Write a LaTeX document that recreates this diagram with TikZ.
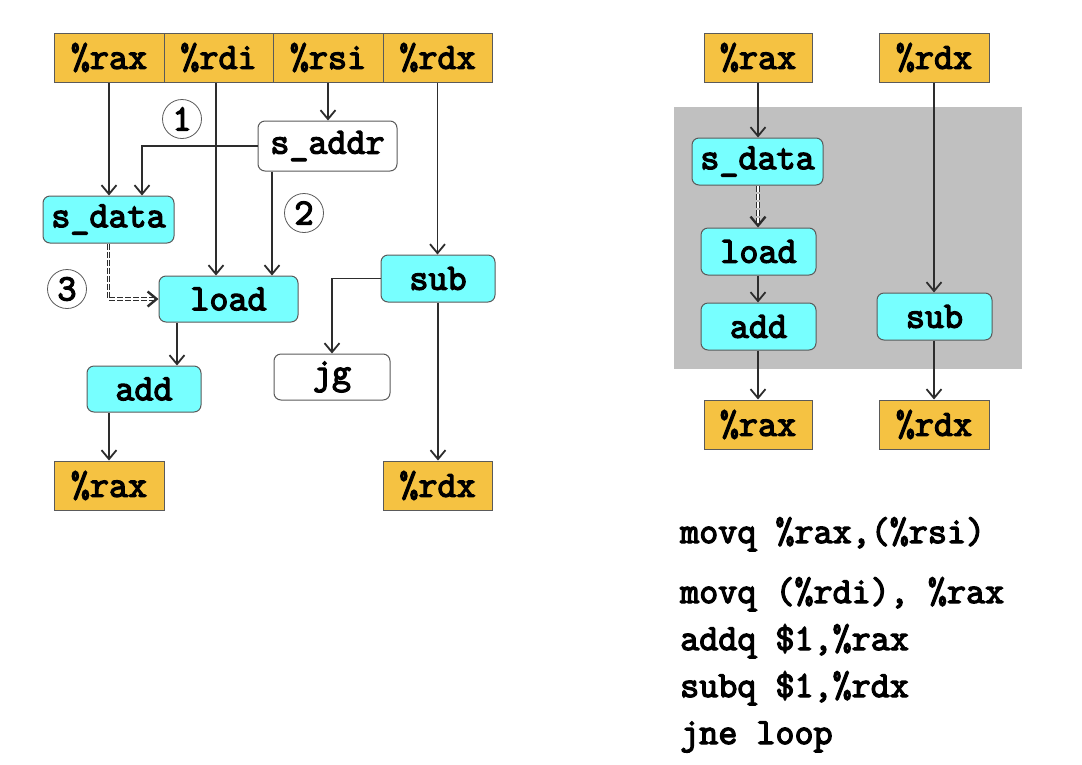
\documentclass[tikz,border=0pt]{standalone}
\usepackage{fontspec}
\setmonofont{Latin Modern Mono}[BoldFont={Latin Modern Mono}, BoldFeatures={FakeBold=3.5}]
\usetikzlibrary{arrows.meta}
\definecolor{regfill}{RGB}{245,194,66}
\definecolor{opfill}{RGB}{119,255,255}
\definecolor{greybg}{RGB}{192,192,192}
\definecolor{edge}{RGB}{90,90,90}
\definecolor{wire}{RGB}{45,45,45}
\begin{document}
\begin{tikzpicture}[x=1pt,y=-1pt,
  every node/.style={font=\fontsize{37}{40}\selectfont\ttfamily\bfseries, inner sep=0pt},
  reg/.style={draw=edge, line width=1pt, fill=regfill, minimum height=49pt},
  op/.style={draw=edge, line width=1pt, fill=opfill, rounded corners=7pt},
  plain/.style={draw=edge, line width=1pt, fill=white, rounded corners=7pt},
  num/.style={draw=edge, line width=0.8pt, fill=white, circle, minimum size=39pt},
  wirea/.style={draw=wire, line width=1.8pt, -{Straight Barb[length=9pt,width=15pt,line width=1.8pt]}},
  fwd/.style={draw=wire, line width=1pt, double=white, double distance=1.8pt, dash pattern=on 6pt off 2pt,
     -{Straight Barb[length=9pt,width=15pt,line width=2.4pt]}},
]
\useasboundingbox (0,0) rectangle (1082,764);

% ---------- left diagram ----------
\node[reg, minimum width=110pt] (rax1) at (109,57.5) {\%rax};
\node[reg, minimum width=109pt] (rdi1) at (218.5,57.5) {\%rdi};
\node[reg, minimum width=110pt] (rsi1) at (328,57.5) {\%rsi};
\node[reg, minimum width=109pt] (rdx1) at (437.5,57.5) {\%rdx};

\node[plain, minimum width=139pt, minimum height=50pt] (saddr) at (327.5,146) {s\_addr};
\node[op, minimum width=131pt, minimum height=47pt] (sdata) at (108.5,219.5) {s\_data};
\node[op, minimum width=139pt, minimum height=46pt] (load) at (228.5,299) {load};
\node[op, minimum width=114pt, minimum height=47pt] (sub) at (438,278.5) {sub};
\node[plain, minimum width=116pt, minimum height=46pt] (jg) at (332,377) {jg};
\node[op, minimum width=114pt, minimum height=46pt] (add) at (144,389) {add};
\node[reg, minimum width=110pt] (rax2) at (109,485.5) {\%rax};
\node[reg, minimum width=109pt] (rdx2) at (437.5,485.5) {\%rdx};

\node[num] (n1) at (182,119) {1};
\node[num] (n2) at (304,213) {2};
\node[num] (n3) at (67,289) {3};

\draw[wirea] (rax1.south) -- (rax1.south |- sdata.north);
\draw[wirea] ([xshift=-2.5pt]rdi1.south) -- ([xshift=-2.5pt]rdi1.south |- load.north);
\draw[wirea] (rsi1.south) -- (rsi1.south |- saddr.north);
\draw[wirea] (saddr.west) -| ([xshift=33.5pt]sdata.north);
\draw[wirea] ([xshift=-55.5pt]saddr.south) -- ([xshift=-55.5pt]saddr.south |- load.north);
\draw[wirea] (rdx1.south) -- (rdx1.south |- sub.north);
\draw[fwd] (sdata.south) |- (load.west);
\draw[wirea] ([xshift=-51.5pt]load.south) -- ([xshift=-51.5pt]load.south |- add.north);
\draw[wirea] ([xshift=-35pt]add.south) -- ([xshift=-35pt]add.south |- rax2.north);
\draw[wirea] (sub.west) -| (jg.north);
\draw[wirea] (sub.south) -- (sub.south |- rdx2.north);

% ---------- right diagram ----------
\fill[greybg] (674,107) rectangle (1022,369);
\node[reg, minimum width=108pt] (rax3) at (758,57.5) {\%rax};
\node[reg, minimum width=110pt] (rdx3) at (934,57.5) {\%rdx};
\node[op, minimum width=131pt, minimum height=47pt] (sdata2) at (757.5,161.5) {s\_data};
\node[op, minimum width=115pt, minimum height=47pt] (load2) at (758.5,251.5) {load};
\node[op, minimum width=115pt, minimum height=47pt] (add2) at (758.5,326.5) {add};
\node[op, minimum width=115pt, minimum height=47pt] (sub2) at (934.5,316.5) {sub};
\node[reg, minimum width=108pt] (rax4) at (758,424.5) {\%rax};
\node[reg, minimum width=110pt] (rdx4) at (934,424.5) {\%rdx};

\draw[wirea] (rax3.south) -- (rax3.south |- sdata2.north);
\draw[fwd] (rax3.south |- sdata2.south) -- (rax3.south |- load2.north);
\draw[wirea] (rax3.south |- load2.south) -- (rax3.south |- add2.north);
\draw[wirea] (rax3.south |- add2.south) -- (rax4.north);
\draw[wirea] (rdx3.south) -- (rdx3.south |- sub2.north);
\draw[wirea] (rdx3.south |- sub2.south) -- (rdx4.north);

% ---------- code ----------
\node[anchor=base west] (c1) at (680,543) {movq \%rax,(\%rsi)};
\node[anchor=base west] (c2) at (680,603) {movq (\%rdi), \%rax};
\node[anchor=base west] (c3) at (680,650) {addq \$1,\%rax};
\node[anchor=base west] (c4) at (680,697) {subq \$1,\%rdx};
\node[anchor=base west] (c5) at (680,744) {jne loop};
\end{tikzpicture}
\end{document}
